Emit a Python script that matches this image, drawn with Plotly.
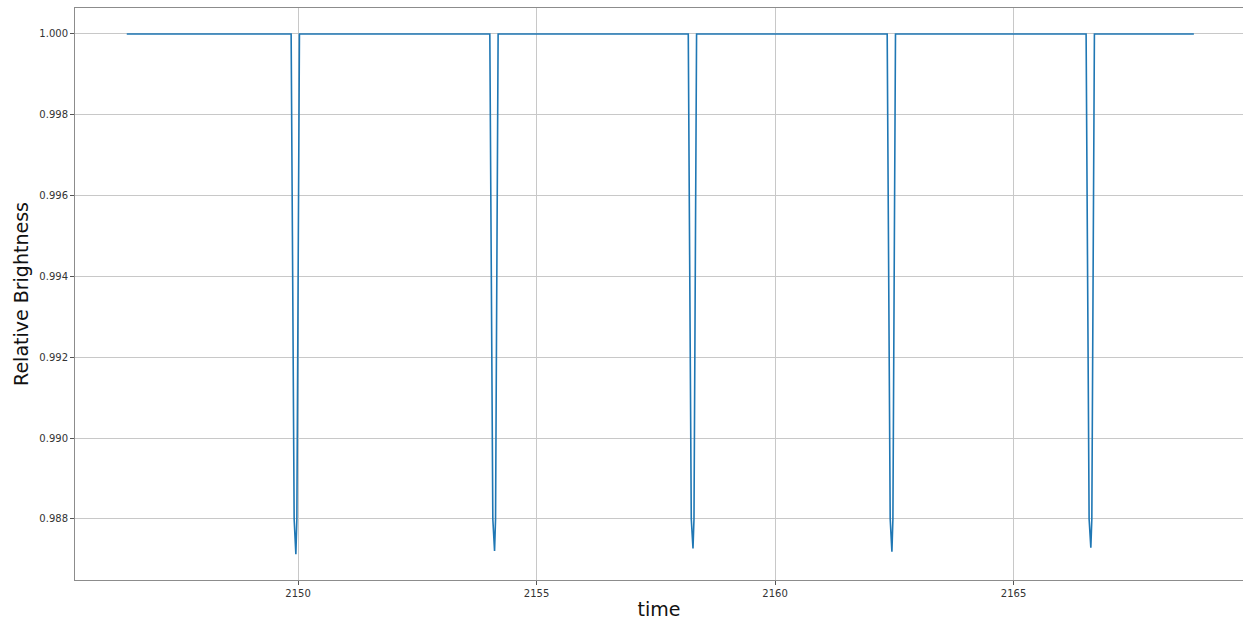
import plotly.graph_objects as go

# Time samples (days) and relative brightness
time = [
    2146.41,
    2149.856, 2149.883, 2149.919, 2149.955, 2149.976, 2150.007, 2150.030,
    2154.021, 2154.048, 2154.084, 2154.120, 2154.141, 2154.172, 2154.195,
    2158.181, 2158.208, 2158.244, 2158.280, 2158.301, 2158.332, 2158.355,
    2162.351, 2162.378, 2162.414, 2162.450, 2162.471, 2162.502, 2162.525,
    2166.521, 2166.548, 2166.584, 2166.620, 2166.641, 2166.672, 2166.695,
    2168.78,
]
brightness = [
    1.0,
    1.0, 0.995, 0.988, 0.98713, 0.988, 0.995, 1.0,
    1.0, 0.995, 0.988, 0.98721, 0.988, 0.995, 1.0,
    1.0, 0.995, 0.988, 0.98727, 0.988, 0.995, 1.0,
    1.0, 0.995, 0.988, 0.98719, 0.988, 0.995, 1.0,
    1.0, 0.995, 0.988, 0.98729, 0.988, 0.995, 1.0,
    1.0,
]
x_ticks = [2150, 2155, 2160, 2165]
y_ticks = [0.988, 0.990, 0.992, 0.994, 0.996, 0.998, 1.000]

fig = go.Figure()
fig.add_trace(go.Scatter(
    x=time, y=brightness, mode="lines",
    line=dict(color="#1f77b4", width=1.6),
    showlegend=False,
))

axis_common = dict(
    showline=True, linecolor="#8c8c8c", linewidth=1,
    showgrid=True, gridcolor="#c8c8c8", gridwidth=1,
    ticks="outside", ticklen=4, tickcolor="#555555", tickwidth=1,
    zeroline=False,
    tickfont=dict(family="DejaVu Sans", size=10, color="#333333"),
)

fig.update_layout(
    width=1243, height=620,
    margin=dict(l=75, r=0, t=8, b=40, autoexpand=False),
    paper_bgcolor="white", plot_bgcolor="white",
    font=dict(family="DejaVu Sans"),
    xaxis=dict(
        range=[2145.325, 2169.81], tickvals=x_ticks,
        ticktext=[str(v) for v in x_ticks],
        title=dict(text="time", font=dict(size=19, color="#111111"), standoff=8),
        automargin=False, mirror=True,
        **axis_common,
    ),
    yaxis=dict(
        range=[0.98649, 1.000643], tickvals=y_ticks,
        ticktext=[f"{v:.3f}" for v in y_ticks],
        title=dict(text="Relative Brightness", font=dict(size=19, color="#111111"), standoff=5),
        automargin=False, mirror=False,
        **axis_common,
    ),
)

fig.write_html(
    "out.html",
    config={"displayModeBar": False},
    post_script="document.body.style.margin='0';document.body.style.overflow='hidden';",
)
